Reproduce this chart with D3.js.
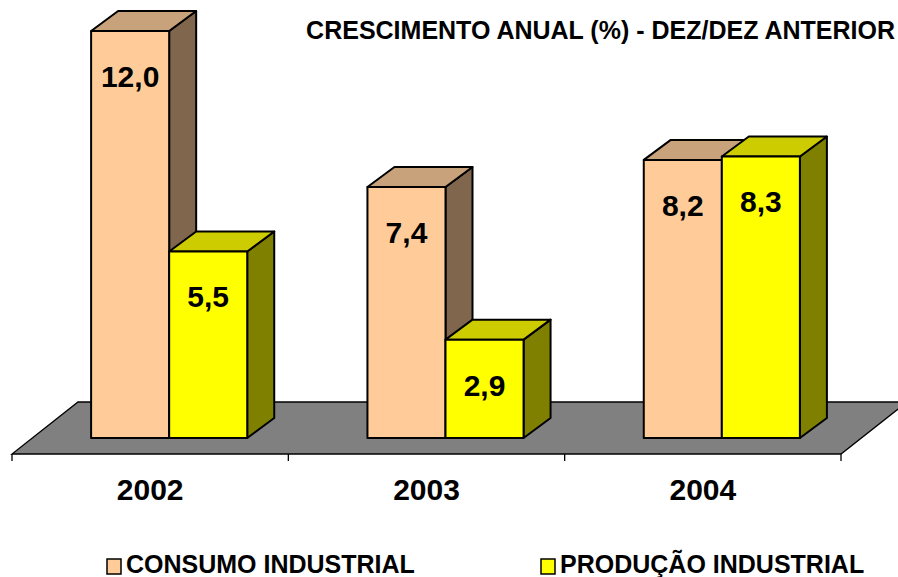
<!DOCTYPE html>
<html>
<head>
<meta charset="utf-8">
<script src="https://cdn.jsdelivr.net/npm/d3@7"></script>
<style>
  body { margin: 0; background: #fff; }
  svg { display: block; }
  text { font-family: "Liberation Sans", Arial, sans-serif; font-weight: bold; fill: #000; }
</style>
</head>
<body>
<svg width="898" height="577"></svg>
<script>
// dados
var years = ["2002", "2003", "2004"];
var seriesNames = ["CONSUMO INDUSTRIAL", "PRODUÇÃO INDUSTRIAL"];
var consumo = [12.0, 7.4, 8.2];
var producao = [5.5, 2.9, 8.3];
var title = "CRESCIMENTO ANUAL (%) - DEZ/DEZ ANTERIOR";

// cores: frente, topo, lado
var colors = [
    { front: "#FFCC99", top: "#C8A27A", side: "#80664D" },
    { front: "#FFFF00", top: "#CCCC00", side: "#808000" }
];

var svg = d3.select("svg");

// piso (plano de fundo 3D)
var floorFront = 454, floorDepth = [66, -52];
var barShift = [19, -16];     // barras ficam no meio do piso
var barDepth = [27, -20];     // profundidade das barras

var x = d3.scaleBand().domain(years).range([12, 841]);
var xs = d3.scaleBand().domain(seriesNames).range([0, x.bandwidth()]).paddingOuter(0.77);
var y = d3.scaleLinear().domain([0, 12]).range([floorFront + barShift[1], 31]);

var x0 = x.range()[0], x1 = x.range()[1];
svg.append("path")
    .attr("d", "M" + x0 + "," + floorFront +
        "L" + x1 + "," + floorFront +
        "L" + (x1 + floorDepth[0]) + "," + (floorFront + floorDepth[1]) +
        "L" + (x0 + floorDepth[0]) + "," + (floorFront + floorDepth[1]) + "Z")
    .attr("fill", "#808080")
    .attr("stroke", "#000")
    .attr("stroke-width", 1.3);

// marcas do eixo
var ticks = years.map(function (d) { return x(d); }).concat([x1]);
svg.selectAll("line.tick")
    .data(ticks)
    .enter()
    .append("line")
    .attr("x1", function (d) { return d; })
    .attr("x2", function (d) { return d; })
    .attr("y1", floorFront)
    .attr("y2", floorFront + 7)
    .attr("stroke", "#000")
    .attr("stroke-width", 1.3);

// rótulos dos anos
svg.selectAll("text.year")
    .data(years)
    .enter()
    .append("text")
    .attr("x", function (d) { return x(d) + x.bandwidth() / 2; })
    .attr("y", 500)
    .attr("text-anchor", "middle")
    .style("font-size", "30px")
    .text(function (d) { return d; });

// barras
var fmt = function (v) { return d3.format(".1f")(v).replace(".", ","); };
var bars = [];
years.forEach(function (yr, i) {
    bars.push({ year: yr, s: 0, v: consumo[i] });
    bars.push({ year: yr, s: 1, v: producao[i] });
});

var base = y(0);
var dx = barDepth[0], dy = barDepth[1];
var g = svg.selectAll("g.bar")
    .data(bars)
    .enter()
    .append("g")
    .attr("class", "bar");

function bx(d) { return x(d.year) + xs(seriesNames[d.s]) + barShift[0]; }
var w = xs.bandwidth();

g.append("path")  // lado
    .attr("d", function (d) {
        var l = bx(d) + w, t = y(d.v);
        return "M" + l + "," + base + "L" + l + "," + t + "L" + (l + dx) + "," + (t + dy) +
            "L" + (l + dx) + "," + (base + dy) + "Z";
    })
    .attr("fill", function (d) { return colors[d.s].side; });
g.append("path")  // topo
    .attr("d", function (d) {
        var l = bx(d), t = y(d.v);
        return "M" + l + "," + t + "L" + (l + w) + "," + t + "L" + (l + w + dx) + "," + (t + dy) +
            "L" + (l + dx) + "," + (t + dy) + "Z";
    })
    .attr("fill", function (d) { return colors[d.s].top; });
g.append("rect")  // frente
    .attr("x", bx)
    .attr("y", function (d) { return y(d.v); })
    .attr("width", w)
    .attr("height", function (d) { return base - y(d.v); })
    .attr("fill", function (d) { return colors[d.s].front; });
g.selectAll("path, rect")
    .attr("stroke", "#000")
    .attr("stroke-width", 2)
    .attr("stroke-linejoin", "round");

g.append("text")
    .attr("x", function (d) { return bx(d) + w / 2; })
    .attr("y", function (d) { return y(d.v) + 56; })
    .attr("text-anchor", "middle")
    .style("font-size", "30px")
    .text(function (d) { return fmt(d.v); });

// título
svg.append("text")
    .attr("x", 895)
    .attr("y", 39)
    .attr("text-anchor", "end")
    .style("font-size", "25px")
    .text(title);

// legenda
var legX = [107, 541];
var leg = svg.selectAll("g.legend")
    .data(seriesNames)
    .enter()
    .append("g")
    .attr("class", "legend")
    .attr("transform", function (d, i) { return "translate(" + legX[i] + ",559)"; });
leg.append("rect")
    .attr("width", 14)
    .attr("height", 15)
    .attr("fill", function (d, i) { return colors[i].front; })
    .attr("stroke", "#000")
    .attr("stroke-width", 1.5);
leg.append("text")
    .attr("x", 19)
    .attr("y", 14)
    .style("font-size", "25px")
    .text(function (d) { return d; });
</script>
</body>
</html>
